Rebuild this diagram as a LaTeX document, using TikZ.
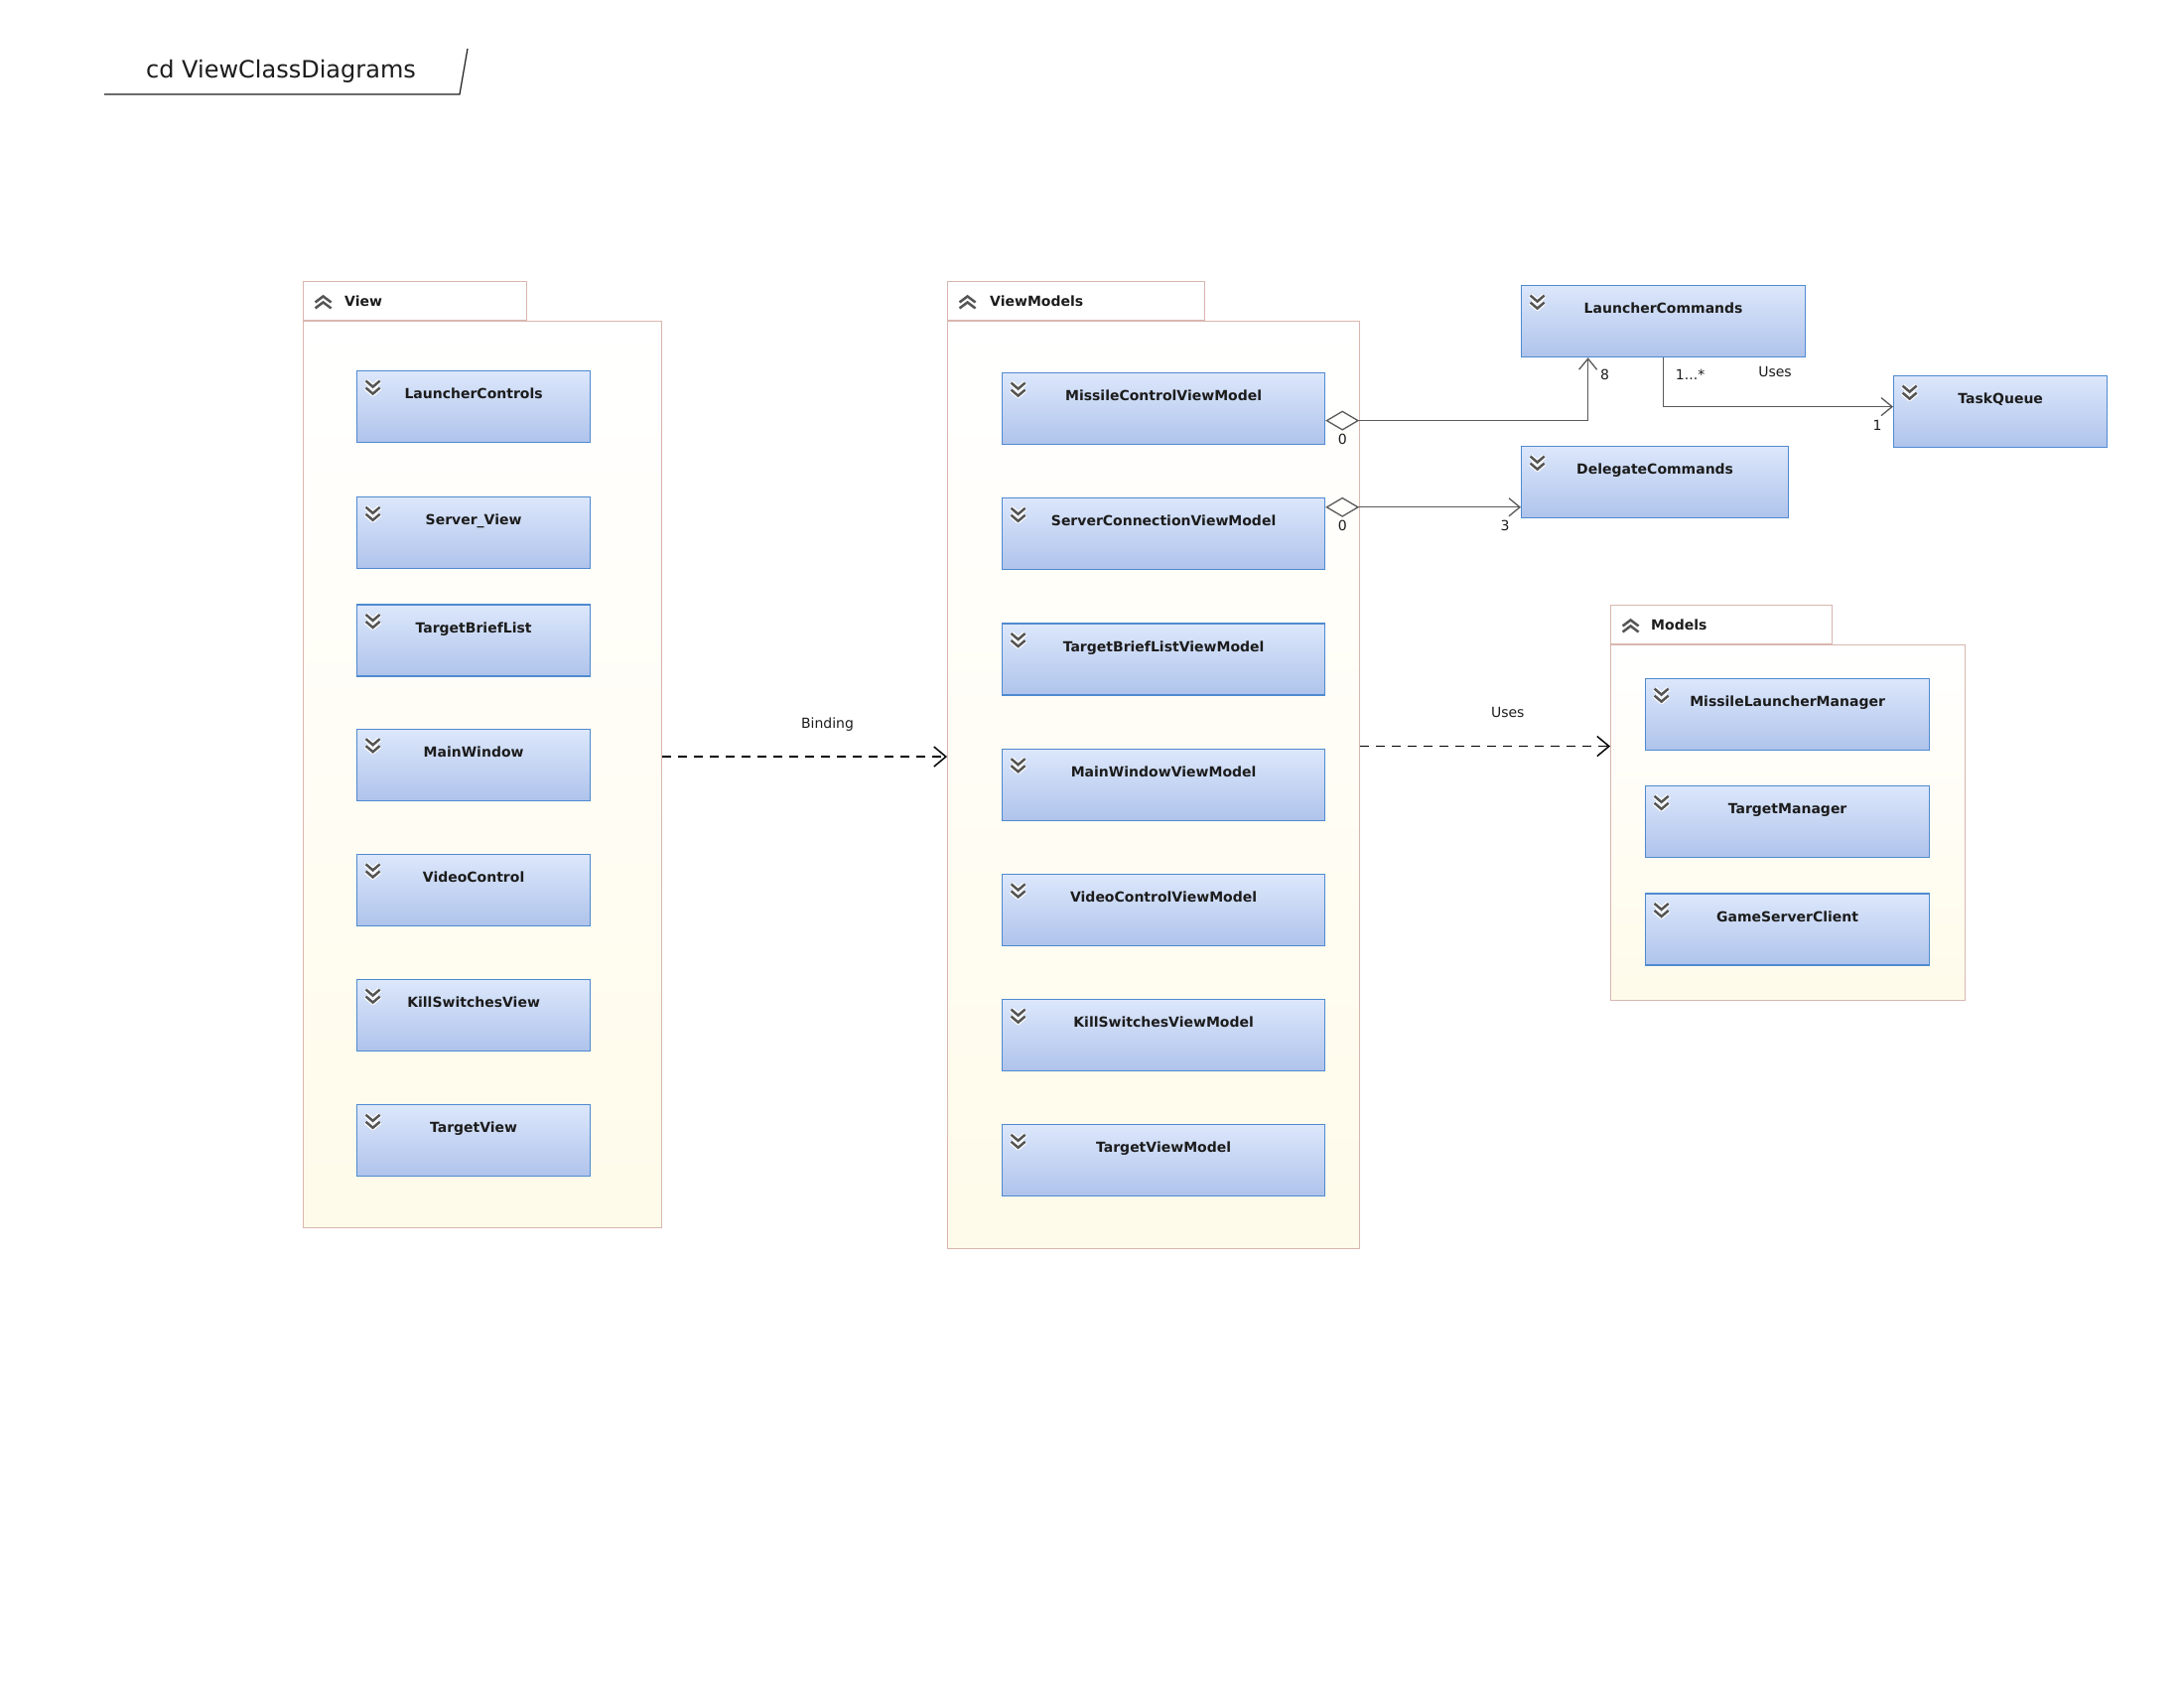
\documentclass[tikz,border=0pt]{standalone}
\usepackage{fontspec}
\setmainfont{DejaVu Sans}
\usepackage{tikz}
\usetikzlibrary{positioning, arrows.meta}
\usepackage{xcolor}
\definecolor{clsTop}{HTML}{DCE7FB}
\definecolor{clsBottom}{HTML}{AFC3EB}
\definecolor{clsBorder}{HTML}{4F8AD0}
\definecolor{pkgBorder}{HTML}{D9B6AF}
\definecolor{pkgCream}{HTML}{FFFBEA}
\definecolor{lineGray}{HTML}{5A5A5A}
\definecolor{chevGray}{HTML}{555555}
\definecolor{textDark}{HTML}{1C1C1C}

\begin{document}
\begin{tikzpicture}[
        x=1pt, y=1pt,
        font=\fontsize{14}{16}\selectfont,
        pkgbody/.style={
          rectangle, draw=pkgBorder, line width=1.1pt,
          top color=white, bottom color=pkgCream,
          anchor=north west, inner sep=0pt
        },
        pkgtab/.style={
          rectangle, draw=pkgBorder, line width=1.1pt, fill=white,
          anchor=south west, inner sep=0pt, minimum height=39pt,
          path picture={
            \foreach \dy in {21pt,27pt}{
              \draw[white, line width=5pt, line join=round]
                ([shift={(12pt,-\dy)}]path picture bounding box.north west) -- ++(8pt,6pt) -- ++(8pt,-6pt);
              \draw[chevGray, line width=2.5pt]
                ([shift={(12pt,-\dy)}]path picture bounding box.north west) -- ++(8pt,6pt) -- ++(8pt,-6pt);
            }
          }
        },
        pkgname/.style={anchor=west, inner sep=0pt, text=textDark, font=\fontsize{14}{16}\selectfont\bfseries},
        cls/.style={
          rectangle, draw=clsBorder, line width=1.2pt,
          top color=clsTop, bottom color=clsBottom,
          inner xsep=0pt, inner ysep=0pt, text height=28pt, text depth=44pt,
          text=textDark, font=\fontsize{14}{16}\selectfont\bfseries,
          path picture={
            \foreach \dy in {10pt,17pt}{
              \draw[white, line width=5pt, line join=round]
                ([shift={(9pt,-\dy)}]path picture bounding box.north west) -- ++(7pt,-6pt) -- ++(7pt,6pt);
              \draw[chevGray, line width=2.5pt]
                ([shift={(9pt,-\dy)}]path picture bounding box.north west) -- ++(7pt,-6pt) -- ++(7pt,6pt);
            }
          }
        },
        mult/.style={inner sep=0pt, text=textDark, font=\fontsize{14}{16}\selectfont},
        assoc/.style={draw=lineGray, line width=1.3pt, -{Straight Barb[length=11pt, width=18pt]}},
        aggr/.style={assoc, {Diamond[open, length=34pt, width=20pt]}-{Straight Barb[length=11pt, width=18pt]}},
        dep/.style={draw=black, line width=1.5pt, dash pattern=on 9pt off 7pt, -{Straight Barb[length=12pt, width=20pt]}}
      ]

      \fill[white] (0,0) rectangle (2200,-1695);
      \useasboundingbox (0,0) rectangle (2200,-1695);

      % --- TITULO ---
      \node[text=textDark, font=\fontsize{24}{28}\selectfont] (title) at (283,-72) {cd ViewClassDiagrams};
      \draw[textDark, line width=1.2pt] (105,-95) -- (463,-95) -- (471,-49);

      % --- PAQUETE VIEW ---
      \node[pkgbody, minimum width=361pt, minimum height=913pt] (viewPkg) at (305,-323) {};
      \node[pkgtab, minimum width=225pt] (viewTab) at (viewPkg.north west) {};
      \node[pkgname, right=42pt of viewTab.west] (viewName) {View};

      \node[cls, minimum width=235pt, anchor=north west] (launcherControls) at (359,-373) {LauncherControls};
      \node[cls, minimum width=235pt, below=54pt of launcherControls] (serverView) {Server\_View};
      \node[cls, minimum width=235pt, below=35pt of serverView] (targetBriefList) {TargetBriefList};
      \node[cls, minimum width=235pt, below=52pt of targetBriefList] (mainWindow) {MainWindow};
      \node[cls, minimum width=235pt, below=53pt of mainWindow] (videoControl) {VideoControl};
      \node[cls, minimum width=235pt, below=53pt of videoControl] (killSwitchesView) {KillSwitchesView};
      \node[cls, minimum width=235pt, below=53pt of killSwitchesView] (targetView) {TargetView};

      % --- PAQUETE VIEWMODELS ---
      \node[pkgbody, minimum width=415pt, minimum height=934pt] (vmPkg) at (954,-323) {};
      \node[pkgtab, minimum width=259pt] (vmTab) at (vmPkg.north west) {};
      \node[pkgname, right=43pt of vmTab.west] (vmName) {ViewModels};

      \node[cls, minimum width=325pt, anchor=north west] (missileControlVM) at (1009,-375) {MissileControlViewModel};
      \node[cls, minimum width=325pt, below=53pt of missileControlVM] (serverConnVM) {ServerConnectionViewModel};
      \node[cls, minimum width=325pt, below=53pt of serverConnVM] (targetBriefListVM) {TargetBriefListViewModel};
      \node[cls, minimum width=325pt, below=53pt of targetBriefListVM] (mainWindowVM) {MainWindowViewModel};
      \node[cls, minimum width=325pt, below=53pt of mainWindowVM] (videoControlVM) {VideoControlViewModel};
      \node[cls, minimum width=325pt, below=53pt of videoControlVM] (killSwitchesVM) {KillSwitchesViewModel};
      \node[cls, minimum width=325pt, below=53pt of killSwitchesVM] (targetVM) {TargetViewModel};

      % --- COMANDOS ---
      \node[cls, minimum width=286pt, anchor=north west] (launcherCommands) at (1532,-287) {LauncherCommands};
      \node[cls, minimum width=269pt, anchor=north west] (delegateCommands) at (1532,-449) {DelegateCommands};
      \node[cls, minimum width=215pt, anchor=north west] (taskQueue) at (1907,-378) {TaskQueue};

      % --- PAQUETE MODELS ---
      \node[pkgbody, minimum width=357pt, minimum height=358pt] (modelsPkg) at (1622,-649) {};
      \node[pkgtab, minimum width=223pt] (modelsTab) at (modelsPkg.north west) {};
      \node[pkgname, right=41pt of modelsTab.west] (modelsName) {Models};

      \node[cls, minimum width=286pt, anchor=north west] (missileLauncherMgr) at (1657,-683) {MissileLauncherManager};
      \node[cls, minimum width=286pt, below=35pt of missileLauncherMgr] (targetMgr) {TargetManager};
      \node[cls, minimum width=286pt, below=35pt of targetMgr] (gameServerClient) {GameServerClient};

      % --- RELACIONES ---
      \draw[aggr] ([yshift=-12pt]missileControlVM.east) -| ([xshift=-76pt]launcherCommands.south)
        node[mult, pos=0, xshift=17pt, yshift=-19pt] {0}
        node[mult, pos=1, xshift=17pt, yshift=-17pt] {8};
      \draw[aggr] ([yshift=27pt]serverConnVM.east) -- ([yshift=27pt]serverConnVM.east -| delegateCommands.west)
        node[mult, pos=0, xshift=17pt, yshift=-19pt] {0}
        node[mult, pos=1, xshift=-16pt, yshift=-19pt] {3};
      \draw[assoc] (launcherCommands.south) |- ([yshift=5pt]taskQueue.west)
        node[mult, pos=0, xshift=27pt, yshift=-17pt] {1...*}
        node[mult, pos=1, xshift=-119pt, yshift=35pt] {Uses}
        node[mult, pos=1, xshift=-16pt, yshift=-19pt] {1};

      \draw[dep] ([yshift=18pt]viewPkg.east) -- ([yshift=18pt]viewPkg.east -| vmPkg.west)
        node[mult, pos=0.58, above=25pt] {Binding};
      \draw[dep] ([yshift=39pt]vmPkg.east) -- ([yshift=39pt]vmPkg.east -| modelsPkg.west)
        node[mult, pos=0.59, above=28pt] {Uses};

    \end{tikzpicture}
\end{document}
